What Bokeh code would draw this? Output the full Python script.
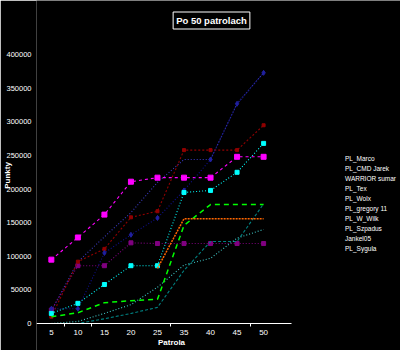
from bokeh.plotting import figure
from bokeh.models import Legend, LegendItem, FixedTicker, Range1d, Label
from bokeh.embed import file_html
from bokeh.resources import INLINE

nan = float("nan")
patrols = ["5", "10", "15", "20", "25", "35", "40", "45", "50"]
y_ticks = [0, 50000, 100000, 150000, 200000, 250000, 300000, 350000, 400000]

pl_marco = [19000, 92000, 129000, 165000, 210000, 244000, 244000, 327000, 373000]
pl_cmd_jarek = [95000, 128000, 162000, 211000, 217000, 217000, 217000, 248000, 248000]
warrior_sumar = [20000, 86000, 86000, 120000, 119000, 119000, 119000, 119000, 119000]
pl_tex = [10000, 92000, 111000, 158000, 167000, 258000, 258000, 258000, 295000]
pl_wolx = [0, 0, 7000, 15000, 24000, 79000, 122000, 122000, 178000]
pl_gregory = [0, 3000, 15000, 28000, 54000, 87000, 97000, 127000, 140000]
pl_w_wilk = [22000, 22000, 105000, 132000, 157000, 198000, 244000, 327000, 373000]
pl_szpadus = [15000, 30000, 58000, 86000, 86000, 195000, 198000, 225000, 268000]
jankel05 = [10000, 16000, 31000, 34000, 36000, 146000, 177000, 177000, 177000]
pl_sygula = [nan, nan, nan, nan, 82000, 156000, 156000, 156000, 156000]

FONT = "Liberation Sans"
xs = list(range(len(patrols)))

# frame spans x 33..400 and y 0..350; x axis sits at value 0 inside the frame
p = figure(width=400, height=350, output_backend="svg", toolbar_location=None,
           x_range=Range1d(-0.56, 13.16), y_range=Range1d(-40176, 480600),
           background_fill_color="black", border_fill_color="black",
           min_border_left=33, min_border_right=0, min_border_top=0, min_border_bottom=0)
p.outline_line_color = None
p.grid.visible = False

# axes
p.xaxis.fixed_location = 0
p.xaxis.bounds = (-0.56, 9.05)
p.xaxis.ticker = FixedTicker(ticks=xs, minor_ticks=[0.5, 1.5, 4.5, 7.5])
p.xaxis.major_label_overrides = {i: t for i, t in enumerate(patrols)}
p.xaxis.axis_line_color = "white"
p.xaxis.major_tick_out = 0
p.xaxis.major_tick_in = 0
p.xaxis.major_tick_line_color = None
p.xaxis.minor_tick_out = 3
p.xaxis.minor_tick_in = 0
p.xaxis.minor_tick_line_color = "white"
p.xaxis.major_label_text_color = "white"
p.xaxis.major_label_text_font = FONT
p.xaxis.major_label_text_font_size = "8px"
p.xaxis.major_label_standoff = 4

p.yaxis.ticker = FixedTicker(ticks=y_ticks)
p.yaxis.major_label_overrides = {t: str(t) for t in y_ticks}
p.yaxis.axis_line_color = None
p.yaxis.major_tick_out = 0
p.yaxis.major_tick_in = 0
p.yaxis.major_tick_line_color = None
p.yaxis.minor_tick_line_color = None
p.yaxis.major_label_text_color = "white"
p.yaxis.major_label_text_font = FONT
p.yaxis.major_label_text_font_size = "7.5px"
p.yaxis.major_label_standoff = 5
p.yaxis.axis_label = "Punkty"
p.yaxis.axis_label_text_font = FONT
p.yaxis.axis_label_text_font_style = "bold"
p.yaxis.axis_label_text_font_size = "8px"
p.yaxis.axis_label_text_color = "white"
p.yaxis.axis_label_standoff = -9

# series
p.line(xs, pl_marco, line_color="#3a3ac0", line_width=1.1, line_dash="1 2")
p.line(xs, pl_cmd_jarek, line_color="#ff00ff", line_width=1.1, line_dash="3 3")
p.scatter(xs, pl_cmd_jarek, marker="square", size=5, color="#ff00ff")
p.line(xs, warrior_sumar, line_color="#800080", line_width=1.1, line_dash="1 2")
p.scatter(xs, warrior_sumar, marker="square", size=4, color="#800080")
p.line(xs, pl_tex, line_color="#900000", line_width=1.1, line_dash="2 2")
p.scatter(xs, pl_tex, marker="square", size=3, color="#900000")
p.line(xs, pl_wolx, line_color="#008080", line_width=1.1, line_dash="3 2")
p.line(xs, pl_gregory, line_color="#40c8c8", line_width=1.1, line_dash="1 2")
p.line(xs, pl_w_wilk, line_color="#101090", line_width=1.1, line_dash="1 2")
p.scatter(xs, pl_w_wilk, marker="diamond", size=5, color="#2020a0")
p.line(xs, pl_szpadus, line_color="#00ffff", line_width=1.1, line_dash="1 2")
p.scatter(xs, pl_szpadus, marker="square", size=4, color="#00ffff")
p.line(xs, jankel05, line_color="#00ff00", line_width=1.5, line_dash="5 4")
p.line(xs, pl_sygula, line_color="#ff6600", line_width=1.5, line_dash="2 1")

# legend proxies (solid swatches like the reference legend)
lg_marco = p.line([], [], line_color="#000090", line_width=1.5)
lg_cmd = p.scatter([], [], marker="square", size=4, color="#ff00ff")
lg_war = p.scatter([], [], marker="square", size=4, color="#800080")
lg_tex_l = p.line([], [], line_color="#900000", line_width=1.5)
lg_tex = p.scatter([], [], marker="square", size=3, color="#900000")
lg_wolx = p.line([], [], line_color="#008080", line_width=1.5)
lg_greg = p.line([], [], line_color="#40c8c8", line_width=1.5)
lg_wilk = p.scatter([], [], marker="square", size=3, color="#2020a0")
lg_szp = p.scatter([], [], marker="square", size=4, color="#00ffff")
lg_jank = p.line([], [], line_color="#00ff00", line_width=1.5)
lg_syg = p.line([], [], line_color="#ff6600", line_width=1.5)

legend = Legend(items=[
    LegendItem(label="PL_Marco", renderers=[lg_marco]),
    LegendItem(label="PL_CMD Jarek", renderers=[lg_cmd]),
    LegendItem(label="WARRIOR sumar", renderers=[lg_war]),
    LegendItem(label="PL_Tex", renderers=[lg_tex_l, lg_tex]),
    LegendItem(label="PL_Wolx", renderers=[lg_wolx]),
    LegendItem(label="PL_gregory 11", renderers=[lg_greg]),
    LegendItem(label="PL_W_Wilk", renderers=[lg_wilk]),
    LegendItem(label="PL_Szpadus", renderers=[lg_szp]),
    LegendItem(label="Jankel05", renderers=[lg_jank]),
    LegendItem(label="PL_Sygula", renderers=[lg_syg]),
], location=(293, 97), orientation="vertical")
legend.padding = 0
legend.margin = 0
legend.spacing = 0
legend.label_height = 10
legend.glyph_height = 10
legend.glyph_width = 14
legend.label_standoff = 2
legend.label_width = 52
legend.label_text_font = FONT
legend.label_text_font_size = "6.5px"
legend.label_text_color = "white"
legend.border_line_color = None
legend.background_fill_color = None
p.add_layout(legend, "center")

# chart title and x-axis title (frame-relative screen units)
p.add_layout(Label(x=175, y=330, x_units="screen", y_units="screen",
                   text="Po 50 patrolach", text_font=FONT, text_font_style="bold",
                   text_font_size="9.5px", text_color="white", text_align="center",
                   text_baseline="middle", border_line_color="white",
                   background_fill_color="black", padding=3))
p.add_layout(Label(x=135, y=8, x_units="screen", y_units="screen",
                   text="Patrola", text_font=FONT, text_font_style="bold",
                   text_font_size="8px", text_color="white", text_align="center",
                   text_baseline="middle"))

open("out.html", "w").write(file_html(p, INLINE))
